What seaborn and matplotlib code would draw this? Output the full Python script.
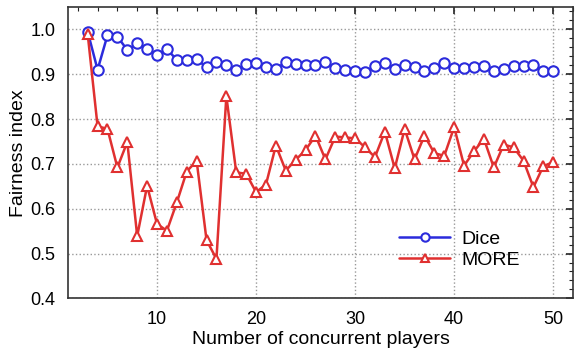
import numpy as np
import pandas as pd
import matplotlib
matplotlib.use("Agg")
import matplotlib.pyplot as plt
from matplotlib.ticker import MultipleLocator
import seaborn as sns

players = list(range(3, 51))

dice = [0.995, 0.910, 0.987, 0.984, 0.954, 0.969, 0.957, 0.943, 0.956, 0.932,
        0.931, 0.933, 0.916, 0.928, 0.920, 0.909, 0.922, 0.924, 0.916, 0.912,
        0.927, 0.922, 0.920, 0.921, 0.927, 0.915, 0.910, 0.907, 0.904, 0.919,
        0.925, 0.912, 0.920, 0.917, 0.908, 0.913, 0.925, 0.915, 0.915, 0.916,
        0.918, 0.907, 0.912, 0.918, 0.919, 0.921, 0.908, 0.907]

more = [0.990, 0.784, 0.778, 0.692, 0.749, 0.539, 0.651, 0.566, 0.551, 0.614,
        0.683, 0.707, 0.530, 0.488, 0.851, 0.681, 0.678, 0.637, 0.654, 0.741,
        0.685, 0.709, 0.731, 0.763, 0.710, 0.761, 0.759, 0.757, 0.737, 0.715,
        0.772, 0.690, 0.778, 0.710, 0.763, 0.724, 0.718, 0.782, 0.696, 0.728,
        0.756, 0.692, 0.743, 0.737, 0.707, 0.648, 0.695, 0.704]

df = pd.DataFrame({
    "players": players * 2,
    "fairness": dice + more,
    "method": ["Dice"] * len(dice) + ["MORE"] * len(more),
})

sns.set_style("white")
plt.rcParams['font.family'] = ['Liberation Sans', 'DejaVu Sans']
plt.rcParams['text.color'] = 'black'
plt.rcParams['axes.labelcolor'] = 'black'
plt.rcParams['xtick.color'] = 'black'
plt.rcParams['ytick.color'] = 'black'

fig = plt.figure(figsize=(5.8, 3.49), dpi=100)
ax = fig.add_axes([0.117, 0.145, 0.871, 0.835])

sns.lineplot(data=df, x="players", y="fairness", hue="method", style="method",
             markers={"Dice": "o", "MORE": "^"}, dashes=False,
             palette={"Dice": "#2b2bdc", "MORE": "#e03030"},
             markersize=7.5, markeredgewidth=1.5,
             linewidth=1.8, ax=ax)

# hollow markers in line colour
for line in ax.get_lines():
    line.set_markeredgecolor(line.get_color())
    line.set_markerfacecolor("white")

ax.set_xlim(1, 52)
ax.set_ylim(0.4, 1.05)
ax.xaxis.set_major_locator(MultipleLocator(10))
ax.xaxis.set_minor_locator(MultipleLocator(2))
ax.yaxis.set_major_locator(MultipleLocator(0.1))
ax.yaxis.set_minor_locator(MultipleLocator(0.02))
ax.yaxis.set_major_formatter(matplotlib.ticker.FormatStrFormatter('%.1f'))
ax.tick_params(which='both', direction='in', top=True, right=True, labelsize=13,
               color='#222222')
ax.tick_params(which='major', length=5, width=1.2, pad=9)
ax.tick_params(which='minor', length=3, width=0.8)
ax.grid(True, which='major', linestyle=':', color='#999999', linewidth=1)
for s in ax.spines.values():
    s.set_color('#333333')
    s.set_linewidth(1.2)

ax.set_xlabel("Number of concurrent players", fontsize=14, labelpad=2)
ax.set_ylabel("Fairness index", fontsize=14, labelpad=2)

h, l = ax.get_legend_handles_labels()
for hh in h:
    hh.set_markerfacecolor("white")
    hh.set_markeredgecolor(hh.get_color())
    hh.set_markersize(6)
ax.legend(h, l, loc='lower right', frameon=False, fontsize=14,
          bbox_to_anchor=(0.93, 0.042), handlelength=2.6, labelspacing=0.15,
          handletextpad=0.6)

fig.savefig("out.png", dpi=100)
